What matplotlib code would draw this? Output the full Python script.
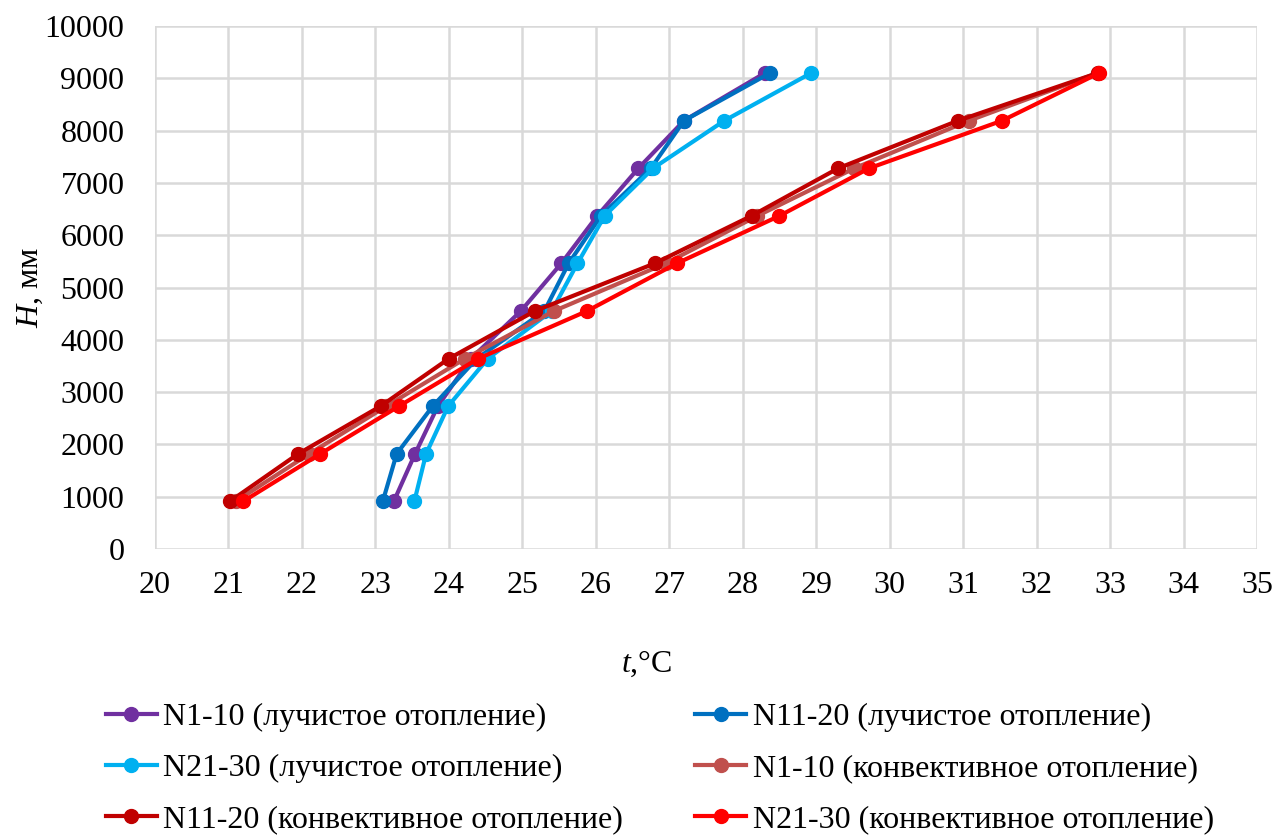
import matplotlib
matplotlib.use('Agg')
from matplotlib import pyplot as plt

heights = [910, 1820, 2730, 3640, 4550, 5460, 6370, 7280, 8190, 9100]

rad_1_10 = [23.25, 23.54, 23.85, 24.3, 24.98, 25.53, 26.02, 26.58, 27.2, 28.3]
rad_11_20 = [23.1, 23.29, 23.78, 24.38, 25.3, 25.63, 26.07, 26.75, 27.2, 28.37]
rad_21_30 = [23.53, 23.69, 23.99, 24.53, 25.4, 25.75, 26.12, 26.78, 27.75, 28.93]
conv_1_10 = [21.1, 22.1, 23.15, 24.22, 25.43, 26.95, 28.2, 29.52, 31.08, 32.83]
conv_11_20 = [21.02, 21.95, 23.07, 24.0, 25.17, 26.8, 28.12, 29.3, 30.93, 32.83]
conv_21_30 = [21.2, 22.25, 23.32, 24.4, 25.88, 27.1, 28.5, 29.72, 31.53, 32.85]

labels = ['N1-10 (лучистое отопление)', 'N11-20 (лучистое отопление)',
          'N21-30 (лучистое отопление)', 'N1-10 (конвективное отопление)',
          'N11-20 (конвективное отопление)', 'N21-30 (конвективное отопление)']
colors = ['#7030A0', '#0070C0', '#00B0F0', '#C0504D', '#C00000', '#FF0000']

plt.rcParams['font.family'] = ['Liberation Serif', 'DejaVu Serif']
plt.rcParams['mathtext.fontset'] = 'custom'
plt.rcParams['mathtext.rm'] = 'Liberation Serif'
plt.rcParams['mathtext.it'] = 'Liberation Serif:italic'

fs = 23
fig = plt.figure(figsize=(12.86, 8.36), dpi=100)
ax = fig.add_axes([0.1205, 0.3433, 0.857, 0.6256])

series = [rad_1_10, rad_11_20, rad_21_30, conv_1_10, conv_11_20, conv_21_30]
handles = []
for temps, color, label in zip(series, colors, labels):
    h, = ax.plot(temps, heights, '-o', color=color, lw=3, markersize=10, label=label)
    handles.append(h)

ax.set_xlim(20, 35)
ax.set_ylim(0, 10000)
ax.set_xticks(range(20, 36))
ax.set_yticks(range(0, 10001, 1000))
ax.grid(True, color='#D9D9D9', lw=1.8)
ax.set_axisbelow(True)
for s in ax.spines.values():
    s.set_visible(False)
ax.tick_params(length=0, labelsize=fs)
ax.tick_params(axis='x', pad=16)
ax.tick_params(axis='y', pad=22)
ax.set_xlabel('$t$,°C', fontsize=fs)
ax.xaxis.set_label_coords(0.446, -0.19)
ax.set_ylabel('$H$, мм', fontsize=fs)
ax.yaxis.set_label_coords(-0.1, 0.5)

order = [0, 2, 4, 1, 3, 5]
fig.legend([handles[i] for i in order], [labels[i] for i in order], ncol=2,
           frameon=False, fontsize=fs, loc='lower left', bbox_to_anchor=(0.06, -0.032),
           handlelength=1.6, handletextpad=0.2, labelspacing=0.68, columnspacing=2.25)

fig.savefig('out.png', dpi=100)
